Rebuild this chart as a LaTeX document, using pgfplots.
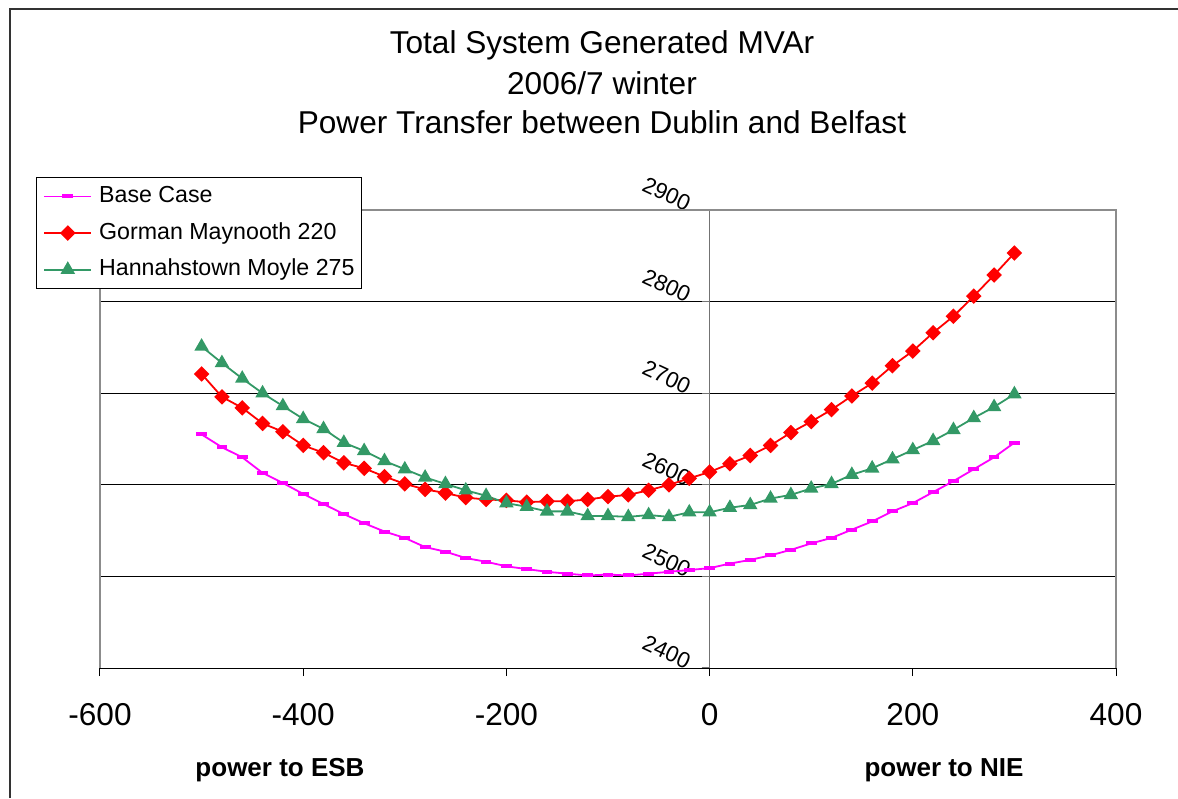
\documentclass[border=0pt]{standalone}
\usepackage{pgfplots}
\pgfplotsset{compat=1.18}
\usepackage{fontspec}
\setmainfont{Liberation Sans}
\definecolor{seagreen}{RGB}{51,153,102}
\definecolor{mag}{RGB}{255,0,255}

\pgfplotstableread{
x base gorman hann
-500 2655 2721 2751
-480 2641 2696 2733
-460 2630 2684 2716
-440 2613 2667 2700
-420 2602 2658 2686
-400 2590 2643 2672
-380 2579 2635 2661
-360 2568 2624 2646
-340 2558 2618 2637
-320 2549 2609 2626
-300 2542 2601 2617
-280 2532 2595 2608
-260 2527 2591 2601
-240 2520 2586 2594
-220 2516 2584 2588
-200 2511 2583 2580
-180 2508 2581 2576
-160 2505 2582 2571
-140 2503 2582 2571
-120 2501 2584 2566
-100 2502 2587 2566
-80 2501 2589 2565
-60 2503 2594 2567
-40 2505 2600 2565
-20 2507 2607 2570
0 2509 2614 2570
20 2514 2623 2575
40 2518 2632 2578
60 2523 2643 2585
80 2529 2657 2589
100 2536 2669 2596
120 2542 2682 2601
140 2551 2697 2611
160 2560 2711 2618
180 2571 2730 2628
200 2580 2746 2638
220 2592 2766 2648
240 2604 2784 2660
260 2617 2806 2673
280 2630 2829 2685
300 2646 2853 2699
}\datatable

\begin{document}
\begin{tikzpicture}[x=1pt,y=1pt]
\useasboundingbox (0,0) rectangle (589,399);
\draw[line width=1pt, black!80] (5,0) -- (5,394.5) -- (589,394.5);
\node[anchor=base, font=\fontsize{15.8}{18}\selectfont] at (301,372) {Total System Generated MVAr};
\node[anchor=base, font=\fontsize{15.8}{18}\selectfont] at (301,351.5) {2006/7 winter};
\node[anchor=base, font=\fontsize{15.8}{18}\selectfont] at (301,332.2) {Power Transfer between Dublin and Belfast};
\node[anchor=base, font=\bfseries\fontsize{13}{15}\selectfont] at (140,10.6) {power to ESB};
\node[anchor=base, font=\bfseries\fontsize{13}{15}\selectfont] at (472,10.6) {power to NIE};
\begin{axis}[
  at={(50pt,65pt)}, anchor=south west,
  scale only axis, width=508pt, height=229pt,
  xmin=-600, xmax=400, ymin=2400, ymax=2900,
  axis x line*=bottom, axis y line*=middle,
  hide obscured x ticks=false, hide obscured y ticks=false,
  x axis line style={black, line width=0.5pt},
  y axis line style={black!55, line width=0.6pt},
  xtick={-600,-400,...,400}, ytick={2400,2500,...,2900},
  tick align=outside, major tick length=4pt,
  xtick style={black, line width=0.5pt},
  ytick style={black!55, line width=0.6pt},
  /pgf/number format/assume math mode=true,
  /pgf/number format/1000 sep={},
  xticklabel style={font=\fontsize{15.8}{18}\selectfont, yshift=-10pt},
  yticklabel style={font=\fontsize{11.2}{12}\selectfont, anchor=center, xshift=-17.5pt, yshift=8pt, rotate=-25},
  ymajorgrids, major grid style={black, line width=0.5pt},
  clip=false,
  legend style={at={(-0.063,1.072)}, anchor=north west, draw=black, fill=white,
    font=\fontsize{11.6}{13}\selectfont, inner xsep=3.5pt, inner ysep=4pt,
    row sep=7.3pt, nodes={inner xsep=0pt, inner ysep=0pt, text height=8.6pt, text depth=2.4pt},
    /tikz/every odd column/.append style={column sep=3.5pt}},
  legend cell align=left,
  legend image code/.code={\draw[mark repeat=2,mark phase=2,#1] plot coordinates {(0pt,0pt) (11.75pt,0pt) (23.5pt,0pt)};},
]
\addplot[mag, line width=0.9pt, mark=-, mark size=2.7pt, mark options={line width=2pt}] table[x=x,y=base] {\datatable};
\addlegendentry{Base Case}
\addplot[red, line width=0.9pt, mark=square*, mark size=2.3pt, mark options={rotate=45}] table[x=x,y=gorman] {\datatable};
\addlegendentry{Gorman Maynooth 220}
\addplot[seagreen, line width=0.9pt, mark=triangle*, mark size=3.3pt] table[x=x,y=hann] {\datatable};
\addlegendentry{Hannahstown Moyle 275}
\draw[black!45, line width=0.6pt] (rel axis cs:0,0) -- (rel axis cs:0,1) -- (rel axis cs:1,1) -- (rel axis cs:1,0);
\end{axis}
\end{tikzpicture}
\end{document}
